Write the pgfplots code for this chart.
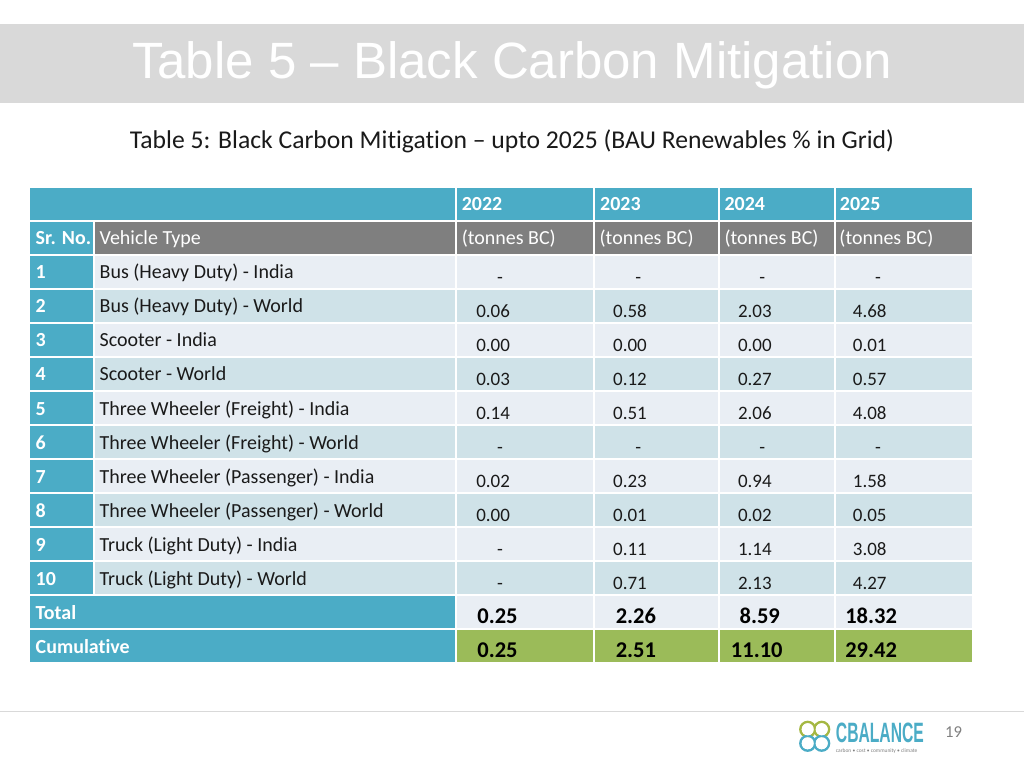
\documentclass[border=0pt]{standalone}
\usepackage{fontspec}
\setmainfont{Carlito}[Ligatures=NoCommon]
\newfontfamily\arialfont{Liberation Sans}
\usepackage{pgfplots}
\usepackage{pgfplotstable}
\pgfplotsset{compat=1.18}
\definecolor{hdrteal}{HTML}{4BACC6}
\definecolor{hdrgray}{HTML}{7F7F7F}
\definecolor{rowA}{HTML}{E9EEF4}
\definecolor{rowB}{HTML}{CFE2E8}
\definecolor{cumgreen}{HTML}{9BBB59}
\definecolor{banner}{HTML}{D9D9D9}
\definecolor{logogreen}{HTML}{A5B843}
\definecolor{pagegray}{HTML}{808080}
\definecolor{txt}{HTML}{1A1A1A}

\newcommand\tabfont{\fontsize{15}{18}\selectfont}
\newcommand\numfont{\fontsize{14.25}{17}\selectfont}
\newcommand\boldnumfont{\bfseries\fontsize{16.9}{20}\selectfont}

% normal values: x = left edge of the number, row = table row index
\pgfplotstableread{
x row v
476 3 0.06
476 4 0.00
476 5 0.03
476 6 0.14
476 8 0.02
476 9 0.00
613 3 0.58
613 4 0.00
613 5 0.12
613 6 0.51
613 8 0.23
613 9 0.01
613 10 0.11
613 11 0.71
738 3 2.03
738 4 0.00
738 5 0.27
738 6 2.06
738 8 0.94
738 9 0.02
738 10 1.14
738 11 2.13
853 3 4.68
853 4 0.01
853 5 0.57
853 6 4.08
853 8 1.58
853 9 0.05
853 10 3.08
853 11 4.27
}\vals
% empty entries shown as dashes
\pgfplotstableread{
x row
500 2
500 7
500 10
500 11
638.5 2
638.5 7
762.5 2
762.5 7
878.5 2
878.5 7
}\dashes
% totals and cumulative
\pgfplotstableread{
x row v
497.5 12 0.25
636 12 2.26
760 12 8.59
871.5 12 18.32
497.5 13 0.25
636 13 2.51
757 13 11.10
871.5 13 29.42
}\tots

\newcommand{\cellfill}[4]{\fill[#4] (axis cs:#1,{187+34.07*#3+1}) rectangle (axis cs:#2,{187+34.07*#3+33.07});}
\newcommand{\valcells}[2]{\cellfill{457}{593}{#1}{#2}\cellfill{595}{718}{#1}{#2}\cellfill{720}{834}{#1}{#2}\cellfill{836}{972}{#1}{#2}}
\newcommand{\bodyrow}[2]{\cellfill{30}{93}{#1}{hdrteal}\cellfill{95}{455}{#1}{#2}\valcells{#1}{#2}}
\newcommand{\lbl}[4]{\node[anchor=base west, inner sep=0pt, font=\tabfont, text=#4] at (axis cs:#1,{187+34.07*#2+24}) {#3};}
\newcommand{\blbl}[3]{\node[anchor=base west, inner sep=0pt, font=\tabfont\bfseries, text=white] at (axis cs:#1,{187+34.07*#2+24}) {#3};}

\begin{document}
\begin{tikzpicture}
\begin{axis}[
  width=768pt, height=576pt, scale only axis,
  xmin=0, xmax=1024, ymin=0, ymax=768, y dir=reverse,
  hide axis, clip=false,
]
\fill[white] (axis cs:0,0) rectangle (axis cs:1024,768);
\fill[banner] (axis cs:0,24) rectangle (axis cs:1024,103);
\node[anchor=base, inner sep=0pt, text=white, font=\arialfont\fontsize{38.3}{40}\selectfont] at (axis cs:512,79) {Table 5 – Black Carbon Mitigation};
\node[anchor=base, inner sep=0pt, text=txt, font=\fontsize{19.25}{22}\selectfont] at (axis cs:512,149) {Table 5: Black Carbon Mitigation – upto 2025 (BAU Renewables \% in Grid)};

% header rows
\cellfill{30}{455}{0}{hdrteal}\valcells{0}{hdrteal}
\cellfill{30}{93}{1}{hdrteal}\cellfill{95}{455}{1}{hdrgray}\valcells{1}{hdrgray}
% body rows
\bodyrow{2}{rowA}\bodyrow{3}{rowB}\bodyrow{4}{rowA}\bodyrow{5}{rowB}
\bodyrow{6}{rowA}\bodyrow{7}{rowB}\bodyrow{8}{rowA}\bodyrow{9}{rowB}
\bodyrow{10}{rowA}\bodyrow{11}{rowB}
% total and cumulative
\cellfill{30}{455}{12}{hdrteal}\valcells{12}{rowA}
\cellfill{30}{455}{13}{hdrteal}\valcells{13}{cumgreen}

% header texts
\blbl{461.5}{0}{2022}\blbl{600}{0}{2023}\blbl{724.5}{0}{2024}\blbl{840}{0}{2025}
\blbl{35}{1}{Sr. No.}
\lbl{99}{1}{Vehicle Type}{white}
\lbl{461.5}{1}{(tonnes BC)}{white}\lbl{599.5}{1}{(tonnes BC)}{white}
\lbl{724.5}{1}{(tonnes BC)}{white}\lbl{839.5}{1}{(tonnes BC)}{white}

% body labels
\blbl{35}{2}{1}\lbl{99}{2}{Bus (Heavy Duty) - India}{txt}
\blbl{35}{3}{2}\lbl{99}{3}{Bus (Heavy Duty) - World}{txt}
\blbl{35}{4}{3}\lbl{99}{4}{Scooter - India}{txt}
\blbl{35}{5}{4}\lbl{99}{5}{Scooter - World}{txt}
\blbl{35}{6}{5}\lbl{99}{6}{Three Wheeler (Freight) - India}{txt}
\blbl{35}{7}{6}\lbl{99}{7}{Three Wheeler (Freight) - World}{txt}
\blbl{35}{8}{7}\lbl{99}{8}{Three Wheeler (Passenger) - India}{txt}
\blbl{35}{9}{8}\lbl{99}{9}{Three Wheeler (Passenger) - World}{txt}
\blbl{35}{10}{9}\lbl{99}{10}{Truck (Light Duty) - India}{txt}
\blbl{35}{11}{10}\lbl{99}{11}{Truck (Light Duty) - World}{txt}
\blbl{35}{12}{Total}
\blbl{35}{13}{Cumulative}

% values
\addplot[only marks, mark=none, nodes near coords, point meta=explicit symbolic,
  nodes near coords style={anchor=base west, inner sep=0pt, font=\numfont, text=txt}]
  table[x=x, y expr={187+34.07*\thisrow{row}+28.5}, meta=v] {\vals};
\addplot[only marks, mark=none, nodes near coords={-},
  nodes near coords style={anchor=base, inner sep=0pt, font=\numfont, text=txt}]
  table[x=x, y expr={187+34.07*\thisrow{row}+28.5}] {\dashes};
\addplot[only marks, mark=none, nodes near coords, point meta=explicit symbolic,
  nodes near coords style={anchor=base, inner sep=0pt, font=\boldnumfont, text=black}]
  table[x=x, y expr={187+34.07*\thisrow{row}+28}, meta=v] {\tots};

% footer
\draw[banner, line width=0.75pt] (axis cs:0,712) -- (axis cs:1024,712);
\draw[logogreen, line width=1.9pt] (axis cs:808,730) circle[radius=5.5pt];
\draw[hdrteal, line width=1.9pt] (axis cs:808,744) circle[radius=5.5pt];
\draw[logogreen, line width=1.9pt] (axis cs:822,730) circle[radius=5.5pt];
\draw[hdrteal, line width=1.9pt] (axis cs:822,744) circle[radius=5.5pt];
\fill[white] (axis cs:808,730) circle[radius=4.55pt];
\fill[white] (axis cs:808,744) circle[radius=4.55pt];
\fill[white] (axis cs:822,730) circle[radius=4.55pt];
\fill[white] (axis cs:822,744) circle[radius=4.55pt];
\node[anchor=base west, inner sep=0pt, text=hdrteal] at (axis cs:836,743) {\scalebox{0.56}[1]{\arialfont\bfseries\fontsize{21}{24}\selectfont CBALANCE}};
\node[anchor=base west, inner sep=0pt, text=pagegray, font=\fontsize{4.1}{5}\selectfont] at (axis cs:836,753) {carbon • cost • community • climate};
\node[anchor=base, inner sep=0pt, text=pagegray, font=\fontsize{12.5}{15}\selectfont] at (axis cs:954,738) {19};
\end{axis}
\end{tikzpicture}
\end{document}
